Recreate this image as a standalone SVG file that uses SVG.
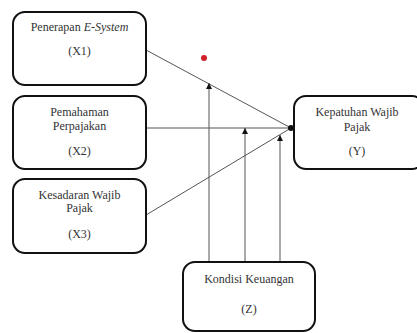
<svg xmlns="http://www.w3.org/2000/svg" width="417" height="333" viewBox="0 0 417 333">
<defs>
<style>
.box{fill:#fff;stroke:#111;stroke-width:2}
.t{font-family:"Liberation Serif","Times New Roman","DejaVu Serif",serif;font-size:12px;fill:#333;text-anchor:middle}
.c{stroke:#555;stroke-width:1;fill:none}
</style>
<marker id="ah" viewBox="0 0 6 6" refX="6" refY="3" markerWidth="6" markerHeight="6" orient="auto" markerUnits="userSpaceOnUse">
<path d="M0,0 L6,3 L0,6 Z" fill="#111"/>
</marker>
</defs>
<rect width="417" height="333" fill="#fff"/>
<g id="connectors">
<line class="c" x1="146" y1="50" x2="291" y2="128"/>
<line class="c" x1="146" y1="128" x2="291" y2="128"/>
<line class="c" x1="146" y1="215" x2="291" y2="128"/>
<line class="c" x1="209" y1="262" x2="209" y2="83" marker-end="url(#ah)"/>
<line class="c" x1="245" y1="262" x2="245" y2="128" marker-end="url(#ah)"/>
<line class="c" x1="280" y1="262" x2="280" y2="135" marker-end="url(#ah)"/>
<circle cx="291" cy="128" r="3" fill="#111"/>
</g>
<circle cx="204" cy="58" r="3" fill="#d0202a"/>
<g id="X1">
<rect class="box" x="13" y="12" width="133" height="73" rx="12"/>
<text class="t" x="79.5" y="31">Penerapan <tspan font-style="italic">E-System</tspan></text>
<text class="t" x="79.5" y="55">(X1)</text>
</g>
<g id="X2">
<rect class="box" x="13" y="96" width="133" height="73" rx="12"/>
<text class="t" x="79.5" y="116">Pemahaman</text>
<text class="t" x="79.5" y="130">Perpajakan</text>
<text class="t" x="79.5" y="155">(X2)</text>
</g>
<g id="X3">
<rect class="box" x="13" y="179" width="133" height="74" rx="12"/>
<text class="t" x="79.5" y="199">Kesadaran Wajib</text>
<text class="t" x="79.5" y="212">Pajak</text>
<text class="t" x="79.5" y="238">(X3)</text>
</g>
<g id="Y">
<rect class="box" x="294" y="96" width="130" height="73" rx="12"/>
<text class="t" x="357" y="116">Kepatuhan Wajib</text>
<text class="t" x="357" y="131">Pajak</text>
<text class="t" x="357" y="155">(Y)</text>
</g>
<g id="Z">
<rect class="box" x="183" y="262" width="132" height="69" rx="12"/>
<text class="t" x="249" y="283">Kondisi Keuangan</text>
<text class="t" x="249" y="313">(Z)</text>
</g>
</svg>
